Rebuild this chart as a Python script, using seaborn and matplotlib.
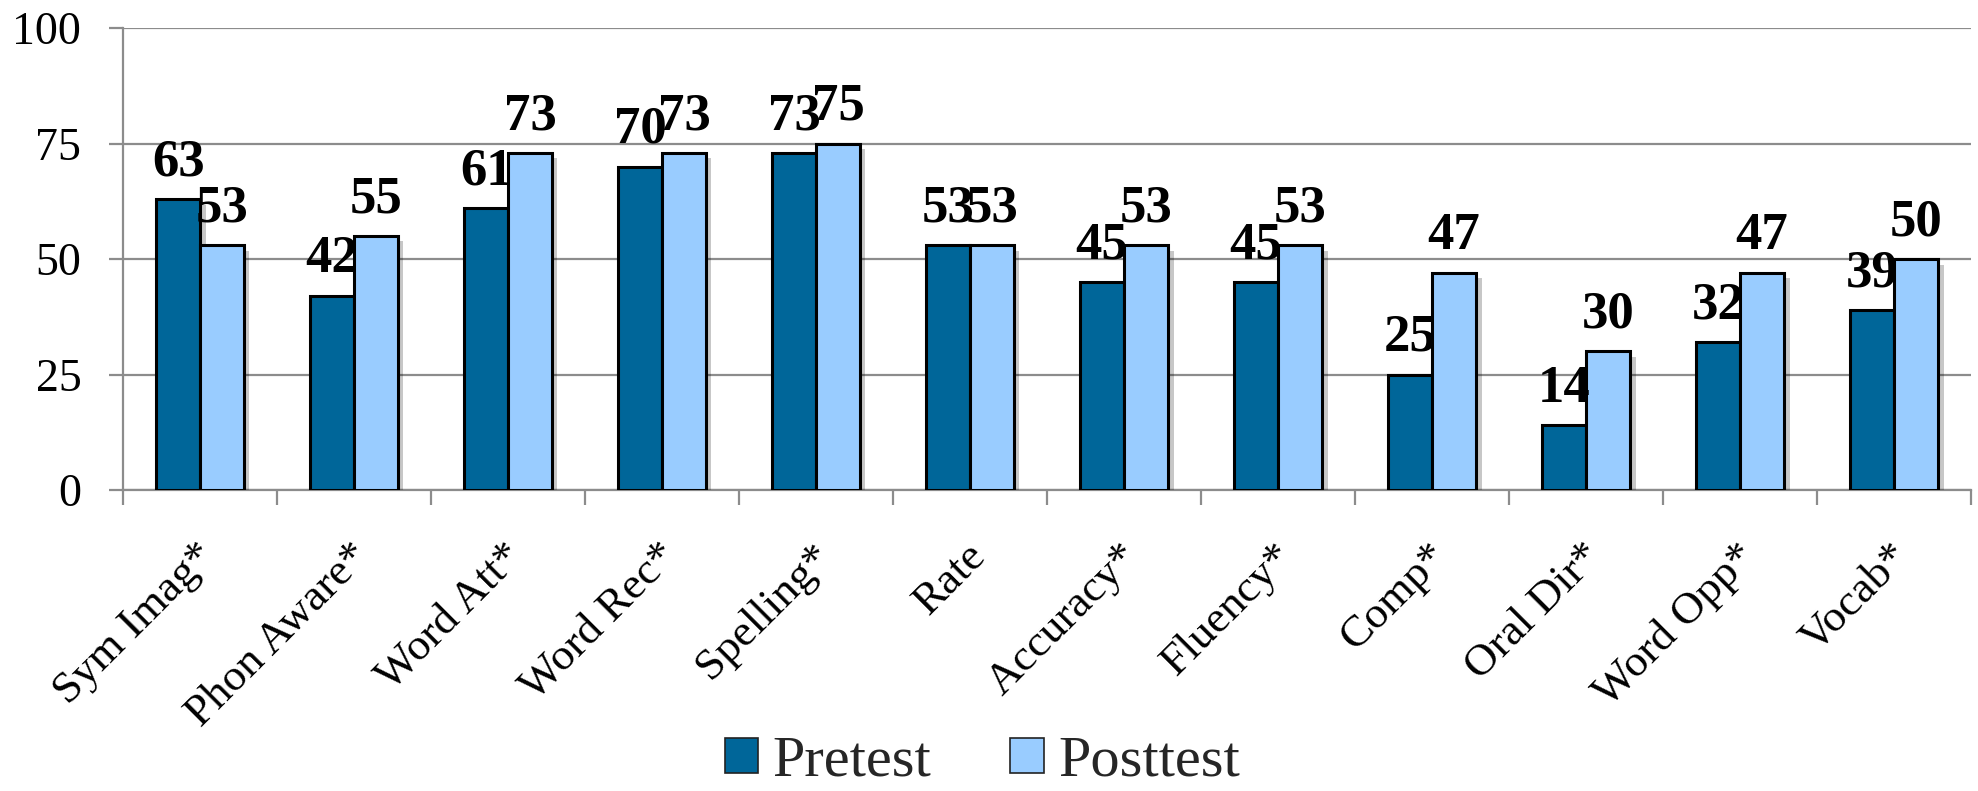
import matplotlib
matplotlib.use("Agg")
import matplotlib.pyplot as plt
import matplotlib.patheffects as pe
import matplotlib.transforms as mtransforms
from matplotlib.patches import Patch
from matplotlib.ticker import FixedLocator
import numpy as np
import pandas as pd
import seaborn as sns

categories = ["Sym Imag*", "Phon Aware*", "Word Att*", "Word Rec*", "Spelling*", "Rate",
              "Accuracy*", "Fluency*", "Comp*", "Oral Dir*", "Word Opp*", "Vocab*"]
pretest = [63, 42, 61, 70, 73, 53, 45, 45, 25, 14, 32, 39]
posttest = [53, 55, 73, 73, 75, 53, 53, 53, 47, 30, 47, 50]
series = ["Pretest", "Posttest"]
y_ticks = [0, 25, 50, 75, 100]

colors = {"Pretest": "#006699", "Posttest": "#99CCFF"}
grid_gray = "#8c8c8c"

df = pd.DataFrame({
    "Category": categories * 2,
    "Test": ["Pretest"] * len(categories) + ["Posttest"] * len(categories),
    "Score": pretest + posttest,
})

sns.set_theme(style="white")
plt.rcParams["font.family"] = ["Liberation Serif", "DejaVu Serif"]

fig = plt.figure(figsize=(19.78, 7.91), dpi=100)
ax = fig.add_axes([0.0622, 0.3805, 0.9343, 0.5841])

sns.barplot(data=df, x="Category", y="Score", hue="Test", order=categories,
            hue_order=series, palette=colors, width=0.57, gap=0,
            edgecolor="black", linewidth=2.2, saturation=1, legend=False, ax=ax,
            zorder=3)

# soft drop shadow on every bar, value printed above each one
shadow = [pe.SimplePatchShadow(offset=(4, -4), shadow_rgbFace="black", alpha=0.22),
          pe.Normal()]
for container, values in zip(ax.containers, [pretest, posttest]):
    for patch, v in zip(container.patches, values):
        patch.set_path_effects(shadow)
        ax.annotate(f"{v}", xy=(patch.get_x() + patch.get_width() / 2, v),
                    xytext=(0, 17), textcoords="offset points",
                    ha="center", va="baseline", fontsize=38, fontweight="bold",
                    color="black", zorder=5)

ax.set_xlim(-0.5, len(categories) - 0.5)
ax.set_ylim(0, 100)
ax.set_yticks(y_ticks)
ax.set_yticklabels([str(t) for t in y_ticks])
ax.yaxis.grid(True, color=grid_gray, linewidth=1.6, zorder=0)
ax.set_axisbelow(True)
ax.set_xlabel("")
ax.set_ylabel("")

for side in ["top", "right"]:
    ax.spines[side].set_visible(False)
for side in ["left", "bottom"]:
    ax.spines[side].set_color(grid_gray)
    ax.spines[side].set_linewidth(1.6)

ax.tick_params(axis="y", which="major", length=10, width=1.6, color=grid_gray,
               direction="out", pad=20, labelsize=33, labelcolor="black", left=True)
# category separators as minor ticks on the x axis
ax.xaxis.set_minor_locator(FixedLocator(np.arange(-0.5, len(categories), 1.0)))
ax.tick_params(axis="x", which="minor", length=11, width=1.6, color=grid_gray,
               direction="out", bottom=True)
ax.tick_params(axis="x", which="major", length=0, pad=33, labelsize=32.5,
               labelcolor="black")
shift = mtransforms.ScaledTranslation(-5 / 100, 0, fig.dpi_scale_trans)
for lbl in ax.get_xticklabels():
    lbl.set_rotation(45)
    lbl.set_ha("right")
    lbl.set_va("top")
    lbl.set_rotation_mode("anchor")
    lbl.set_transform(lbl.get_transform() + shift)

handles = [Patch(facecolor=colors[s], edgecolor="#222222", linewidth=1.2, label=s)
           for s in series]
fig.legend(handles=handles, loc="center", bbox_to_anchor=(0.4967, 0.037), ncol=2,
           frameon=False, fontsize=42, handlelength=0.57, handleheight=0.55,
           handletextpad=0.25, columnspacing=1.35, borderpad=0)

fig.savefig("out.png", dpi=100)
